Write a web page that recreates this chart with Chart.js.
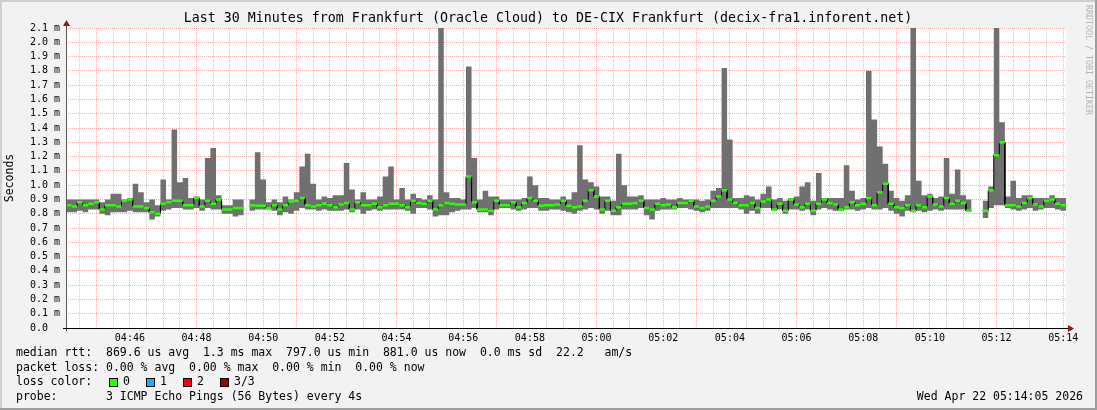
<!DOCTYPE html>
<html>
<head>
<meta charset="utf-8">
<script src="https://cdn.jsdelivr.net/npm/chart.js@4/dist/chart.umd.min.js"></script>
<style>
  html, body { margin: 0; padding: 0; background: #f2f2f2; }
  #wrap { width: 1097px; height: 410px; }
</style>
</head>
<body>
<div id="wrap"><canvas id="rttChart" width="1097" height="410"></canvas></div>
<script>
// time range in seconds since midnight: 04:44:05 -> 05:14:05, one sample every 10 s
const startTime = 17045
const endTime = 18845
const stepSec = 10
const gridStep = 30

// smoke: lowest / highest ping per sample (ms), null = no data
const rttLow = [
  .81,.81,.82,.81,.83,.83,.80,.79,.81,.81,
  .81,.82,.81,.81,.81,.76,.78,.82,.83,.84,
  .84,.83,.83,.84,.82,.84,.83,.83,.80,.80,
  .78,.79,null,.82,.83,.83,.83,.82,.79,.81,
  .80,.82,.84,.83,.83,.82,.83,.82,.82,.82,
  .83,.81,.83,.80,.82,.83,.82,.83,.83,.83,
  .83,.82,.80,.84,.84,.83,.78,.79,.79,.81,
  .82,.83,.83,.84,.81,.81,.79,.83,.84,.84,
  .83,.82,.83,.84,.84,.82,.82,.83,.83,.82,
  .81,.80,.82,.83,.84,.83,.80,.82,.79,.79,
  .83,.83,.83,.84,.79,.76,.82,.83,.83,.83,
  .84,.84,.83,.82,.81,.82,.84,.84,.84,.84,
  .84,.83,.80,.82,.80,.84,.84,.82,.83,.80,
  .83,.83,.82,.83,.79,.83,.84,.83,.82,.82,
  .83,.83,.82,.83,.84,.83,.83,.84,.82,.80,
  .78,.82,.81,.82,.81,.82,.83,.82,.83,.83,
  .83,.83,.82,null,null,.77,.84,.86,.86,.84,
  .83,.82,.83,.84,.82,.83,.84,.84,.83,.82
]
const rttHigh = [
  .90,.90,.90,.90,.90,.90,.88,.90,.94,.94,
  .90,.91,1.01,.95,.88,.90,.86,1.04,.90,1.39,
  1.02,1.05,.91,.92,.90,1.19,1.26,.93,.86,.86,
  .90,.90,null,.90,1.23,1.04,.88,.90,.88,.92,
  .90,.95,1.13,1.22,1.01,.90,.92,.91,.93,.93,
  1.155,.97,.90,.95,.90,.90,.92,1.06,1.13,.90,
  .98,.90,.94,.91,.90,.93,.90,2.2,.95,.91,
  .91,.90,1.83,1.19,.90,.96,.92,.92,.90,.90,
  .90,.90,.91,1.06,1.00,.91,.91,.90,.90,.92,
  .90,.95,1.28,1.04,1.02,.99,.92,.92,.89,1.22,
  1.00,.92,.92,.93,.90,.90,.90,.91,.90,.90,
  .91,.90,.90,.90,.89,.90,.96,.98,1.82,1.32,
  .91,.91,.93,.92,.90,.94,.99,.90,.91,.89,
  .91,.92,.99,1.02,.89,1.085,.91,.91,.91,.91,
  1.14,.96,.90,.91,1.80,1.46,1.27,1.15,.96,.91,
  .89,.93,2.2,1.03,.93,.94,.91,.92,1.19,.94,
  1.11,.93,.90,null,null,.89,.99,2.2,1.44,.92,
  1.03,.91,.93,.93,.91,.91,.91,.93,.91,.91
]
// median rtt per sample (ms)
const rttMedian = [
  .86,.85,.88,.86,.87,.88,.83,.86,.86,.85,
  .89,.90,.85,.85,.84,.81,.80,.87,.88,.89,
  .89,.86,.86,.91,.85,.89,.87,.90,.83,.83,
  .84,.84,null,.86,.855,.855,.84,.86,.83,.86,
  .885,.89,.91,.86,.85,.86,.87,.86,.845,.865,
  .875,.83,.88,.86,.86,.87,.845,.86,.87,.87,
  .86,.845,.89,.875,.87,.89,.83,.86,.875,.87,
  .865,.865,1.06,.88,.83,.83,.82,.89,.86,.86,
  .88,.845,.875,.91,.89,.855,.86,.86,.865,.89,
  .855,.845,.85,.89,.965,.92,.83,.89,.82,.845,
  .87,.87,.875,.89,.84,.83,.87,.86,.865,.845,
  .875,.875,.89,.85,.84,.85,.89,.92,.965,.90,
  .875,.86,.86,.875,.84,.885,.90,.83,.87,.82,
  .90,.865,.845,.87,.82,.87,.90,.875,.865,.83,
  .845,.88,.86,.87,.91,.86,.95,1.01,.87,.845,
  .84,.86,.82,.86,.845,.92,.865,.85,.91,.87,
  .89,.875,.82,null,null,.82,.965,1.21,1.30,.86,
  .86,.85,.875,.91,.865,.85,.89,.90,.87,.86
]

const lossColors = ['#26ff00', '#00b8ff', '#ff0000', '#a00000']
const lossLabels = ['0', '1', '2', '3/3']

const titleText = 'Last 30 Minutes from Frankfurt (Oracle Cloud) to DE-CIX Frankfurt (decix-fra1.inforent.net)'
const statLines = [
  'median rtt:  869.6 us avg  1.3 ms max  797.0 us min  881.0 us now  0.0 ms sd  22.2   am/s',
  'packet loss: 0.00 % avg  0.00 % max  0.00 % min  0.00 % now',
  'loss color:',
  'probe:       3 ICMP Echo Pings (56 Bytes) every 4s'
]
const dateText = 'Wed Apr 22 05:14:05 2026'
const creditText = 'RRDTOOL / TOBI OETIKER'

const mono = 'DejaVu Sans Mono'
const redGrid = 'rgba(240,120,120,0.6)'
const grayGrid = 'rgba(170,170,170,0.6)'

// each sample becomes a flat step from its start to its end
const lowPts = [], highPts = [], medPts = [], greenPts = []
for (let i = 0; i < rttMedian.length; i++) {
  const t1 = startTime + i * stepSec
  const t2 = t1 + stepSec
  if (rttMedian[i] === null) {
    lowPts.push({x: t1, y: null})
    highPts.push({x: t1, y: null})
    medPts.push({x: t1, y: null})
    continue
  }
  lowPts.push({x: t1, y: rttLow[i]}, {x: t2, y: rttLow[i]})
  highPts.push({x: t1, y: rttHigh[i]}, {x: t2, y: rttHigh[i]})
  medPts.push({x: t1, y: rttMedian[i]}, {x: t2, y: rttMedian[i]})
  greenPts.push({x: t1, y: rttMedian[i]}, {x: t2, y: rttMedian[i]}, {x: t2, y: null})
}

function hhmm(sec) {
  const h = Math.floor(sec / 3600)
  const m = Math.floor((sec % 3600) / 60)
  return String(h).padStart(2, '0') + ':' + String(m).padStart(2, '0')
}

const rrdFrame = {
  id: 'rrdFrame',
  beforeDraw(chart) {
    const {ctx, chartArea: a, width: w, height: h} = chart
    ctx.save()
    ctx.fillStyle = '#f2f2f2'
    ctx.fillRect(0, 0, w, h)
    ctx.fillStyle = '#cfcfcf'
    ctx.fillRect(0, 0, w, 2)
    ctx.fillRect(0, 0, 2, h)
    ctx.fillStyle = '#9e9e9e'
    ctx.fillRect(0, h - 2, w, 2)
    ctx.fillRect(w - 2, 0, 2, h)
    ctx.fillStyle = '#ffffff'
    ctx.fillRect(a.left, a.top, a.right - a.left, a.bottom - a.top)
    ctx.restore()
  },
  afterDraw(chart) {
    const {ctx, chartArea: a} = chart
    ctx.save()
    // axes
    ctx.lineWidth = 1
    ctx.strokeStyle = '#555'
    ctx.beginPath()
    ctx.moveTo(a.left + 0.5, a.bottom + 3)
    ctx.lineTo(a.left + 0.5, a.top - 3)
    ctx.stroke()
    ctx.strokeStyle = '#000'
    ctx.beginPath()
    ctx.moveTo(a.left - 3, a.bottom + 0.5)
    ctx.lineTo(a.right + 4, a.bottom + 0.5)
    ctx.stroke()
    ctx.fillStyle = '#8b1a1a'
    ctx.beginPath()
    ctx.moveTo(a.left - 3, a.top - 2)
    ctx.lineTo(a.left + 4, a.top - 2)
    ctx.lineTo(a.left + 0.5, a.top - 8)
    ctx.closePath()
    ctx.fill()
    ctx.beginPath()
    ctx.moveTo(a.right + 2, a.bottom - 3)
    ctx.lineTo(a.right + 2, a.bottom + 4)
    ctx.lineTo(a.right + 8, a.bottom + 0.5)
    ctx.closePath()
    ctx.fill()

    // title
    ctx.fillStyle = '#000'
    ctx.font = '13.3px "' + mono + '"'
    ctx.textAlign = 'center'
    ctx.textBaseline = 'middle'
    ctx.fillText(titleText, 548, 19)

    // statistics legend
    ctx.font = '11.5px "' + mono + '"'
    ctx.textAlign = 'left'
    const rowY = [353, 368, 382.5, 397]
    statLines.forEach((s, i) => ctx.fillText(s, 16, rowY[i]))
    lossColors.forEach((c, i) => {
      const bx = 109 + i * 37
      ctx.fillStyle = c
      ctx.fillRect(bx, 378, 8, 8)
      ctx.strokeStyle = '#000'
      ctx.strokeRect(bx + 0.5, 378.5, 8, 8)
      ctx.fillStyle = '#000'
      ctx.fillText(lossLabels[i], bx + 14, rowY[2])
    })
    ctx.textAlign = 'right'
    ctx.fillText(dateText, 1083, 397)

    // rrdtool credit
    ctx.translate(1088, 5)
    ctx.rotate(Math.PI / 2)
    ctx.textAlign = 'left'
    ctx.fillStyle = '#b4b4b4'
    ctx.font = '8.3px "' + mono + '"'
    ctx.fillText(creditText, 0, 0)
    ctx.restore()
  }
}

const config = {
  type: 'line',
  data: {
    datasets: [{
      label: 'loss 0',
      data: greenPts,
      borderColor: lossColors[0],
      borderWidth: 2.5,
      pointRadius: 0,
      spanGaps: false,
      fill: false
    }, {
      label: 'median',
      data: medPts,
      borderColor: '#000',
      borderWidth: 1,
      pointRadius: 0,
      spanGaps: false,
      fill: false
    }, {
      label: 'smoke high',
      data: highPts,
      borderWidth: 0,
      borderColor: 'rgba(0,0,0,0)',
      backgroundColor: '#707070',
      pointRadius: 0,
      spanGaps: false,
      fill: '+1'
    }, {
      label: 'smoke low',
      data: lowPts,
      borderWidth: 0,
      borderColor: 'rgba(0,0,0,0)',
      pointRadius: 0,
      spanGaps: false,
      fill: false
    }]
  },
  options: {
    responsive: false,
    animation: false,
    devicePixelRatio: 1,
    layout: {
      padding: {left: 0, top: 28, right: 31, bottom: 60}
    },
    plugins: {
      legend: {display: false},
      tooltip: {enabled: false},
      title: {display: false}
    },
    scales: {
      x: {
        type: 'linear',
        min: startTime,
        max: endTime,
        afterFit: (s) => { s.height = 22 },
        // grid every 30 s on whole half-minutes
        afterBuildTicks: (s) => {
          const ticks = []
          for (let t = Math.ceil(startTime / gridStep) * gridStep; t <= endTime; t += gridStep) {
            ticks.push({value: t})
          }
          s.ticks = ticks
        },
        ticks: {
          autoSkip: false,
          maxRotation: 0,
          padding: 4,
          color: '#000',
          font: {family: mono, size: 10},
          callback: (v) => (v % 120 === 0 ? hhmm(v) : '')
        },
        grid: {
          drawTicks: false,
          lineWidth: 1,
          color: (c) => (c.tick && c.tick.value % 60 === 0 ? redGrid : grayGrid)
        },
        border: {display: false, dash: [1, 1]}
      },
      y: {
        min: 0,
        max: 2.1,
        afterFit: (s) => { s.width = 66 },
        ticks: {
          stepSize: 0.1,
          autoSkip: false,
          padding: 6,
          color: '#000',
          font: {family: mono, size: 10},
          callback: (v) => (Math.abs(v) < 1e-9 ? '0.0  ' : Number(v).toFixed(1) + ' m')
        },
        grid: {
          drawTicks: false,
          lineWidth: 1,
          color: redGrid
        },
        border: {display: false, dash: [1, 1]},
        title: {
          display: true,
          text: 'Seconds',
          color: '#000',
          font: {family: mono, size: 11.5},
          padding: {top: 3, bottom: 0}
        }
      }
    }
  },
  plugins: [rrdFrame]
}

const rttChart = new Chart(document.getElementById('rttChart'), config)
</script>
</body>
</html>
